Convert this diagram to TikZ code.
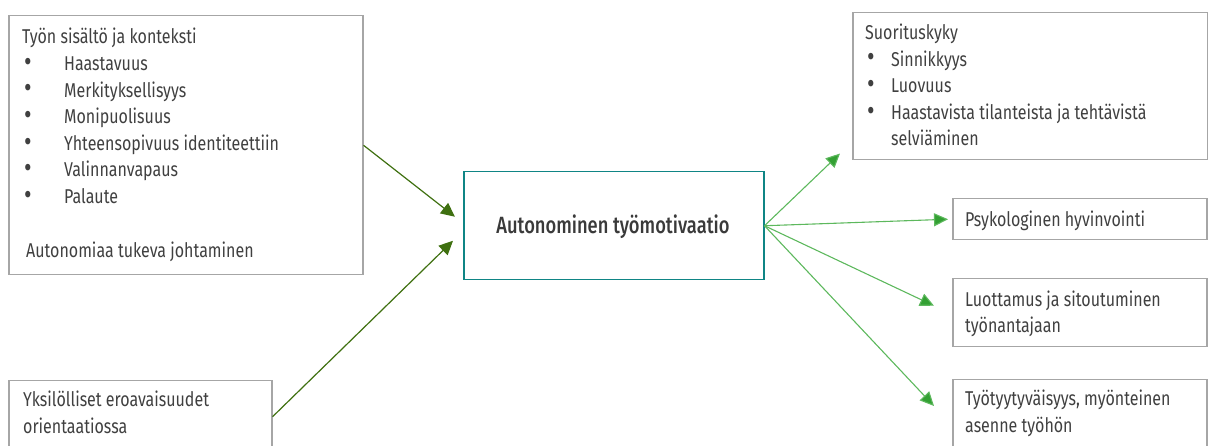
\documentclass[tikz,border=0pt]{standalone}
\usepackage{fontspec}
\usepackage{graphicx}
\setmainfont{Fira Sans}[FakeStretch=0.8]
\newfontfamily\boldcond{Fira Sans Medium}[FakeStretch=0.78]
\usetikzlibrary{arrows.meta}
\definecolor{txt}{HTML}{404040}
\definecolor{boxgray}{HTML}{A6A6A6}
\definecolor{teal}{HTML}{0F8585}
\definecolor{darkgreen}{HTML}{3F7010}
\definecolor{midgreen}{HTML}{33A033}
\definecolor{linegreen}{HTML}{5DB85D}
\tikzset{
  box/.style={draw=boxgray, line width=1.5pt, inner sep=0pt, anchor=north west},
  lbl/.style={inner sep=0pt, anchor=base west, text=txt, font=\fontsize{20}{26.6}\selectfont, align=left},
  larr/.style={draw=darkgreen, line width=1.2pt, -{Triangle[length=14pt,width=13pt]}},
  rarr/.style={draw=linegreen, line width=1.1pt, -{Triangle[length=14pt,width=13pt,fill=midgreen]}},
}
\newcommand{\bul}[1]{\makebox[#1][l]{\hspace{2pt}\raisebox{-0.8pt}{\scalebox{1.45}{\textbullet}}}}
\begin{document}
\begin{tikzpicture}[x=1pt,y=-1pt]
\useasboundingbox (0,0) rectangle (1208,446);
\clip (0,0) rectangle (1208,446);
% boxes
\node[box, minimum width=354pt, minimum height=259pt] (ctx) at (8,15) {};
\node[box, minimum width=263pt, minimum height=72pt] (ind) at (8,380) {};
\node[box, draw=teal, minimum width=300pt, minimum height=108pt] (mot) at (463,171) {};
\node[box, minimum width=355pt, minimum height=147pt] (suo) at (852,12) {};
\node[box, minimum width=254pt, minimum height=41pt] (psy) at (952,198) {};
\node[box, minimum width=254pt, minimum height=68pt] (luo) at (952,278) {};
\node[box, minimum width=254pt, minimum height=80pt] (tyo) at (952,379) {};
% texts (multi-line nodes: base = last baseline)
\node[lbl] (ctxt) at (22,258) {Työn sisältö ja konteksti\\
\bul{42pt}Haastavuus\\
\bul{42pt}Merkityksellisyys\\
\bul{42pt}Monipuolisuus\\
\bul{42pt}Yhteensopivuus identiteettiin\\
\bul{42pt}Valinnanvapaus\\
\bul{42pt}Palaute\\[27.8pt]
\hspace{4pt}Autonomiaa tukeva johtaminen};
\node[lbl] (indt) at (23,433) {Yksilölliset eroavaisuudet\\orientaatiossa};
\node[inner sep=0pt, anchor=base, text=txt!90!black, font=\boldcond\fontsize{23.5}{26}\selectfont] (mott) at (613,234) {Autonominen työmotivaatio};
\node[lbl] (suot) at (865,146) {Suorituskyky\\
\bul{26pt}Sinnikkyys\\
\bul{26pt}Luovuus\\
\bul{26pt}Haastavista tilanteista ja tehtävistä\\
\hspace{26pt}selviäminen};
\node[lbl] (psyt) at (965,227) {Psykologinen hyvinvointi};
\node[lbl] (luot) at (965,333) {Luottamus ja sitoutuminen\\työnantajaan};
\node[lbl] (tyot) at (965,432) {Työtyytyväisyys, myönteinen\\asenne työhön};
% connectors
\draw[larr] (ctx.east) -- ([shift={(-8,-9)}]mot.west);
\draw[larr] (ind.east) -- ([shift={(-10,15)}]mot.west);
\draw[rarr] (mot.east) -- ([shift={(-12,-7)}]suo.south west);
\draw[rarr] (mot.east) -- ([shift={(-4,0)}]psy.west);
\draw[rarr] (mot.east) -- ([shift={(-18,-7)}]luo.west);
\draw[rarr] (mot.east) -- ([shift={(-18,27)}]tyo.north west);
\end{tikzpicture}
\end{document}
